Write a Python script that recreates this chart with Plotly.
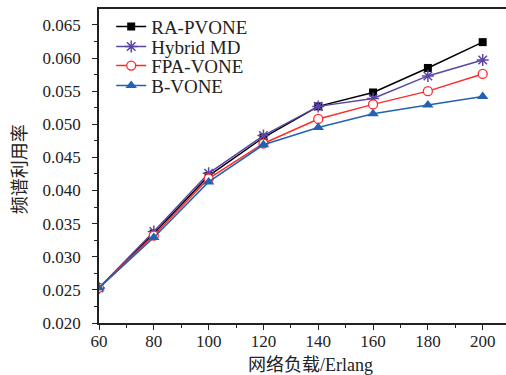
import plotly.graph_objects as go

loads = [60, 80, 100, 120, 140, 160, 180, 200]
ra_pvone = [0.0253, 0.0335, 0.0422, 0.0480, 0.0527, 0.0548, 0.0585, 0.0624]
hybrid_md = [0.0253, 0.0338, 0.0426, 0.0483, 0.0527, 0.0539, 0.0573, 0.0597]
fpa_vone = [0.0253, 0.0332, 0.0418, 0.0471, 0.0508, 0.0530, 0.0550, 0.0576]
b_vone = [0.0253, 0.0329, 0.0413, 0.0469, 0.0495, 0.0516, 0.0529, 0.0542]

names = ["RA-PVONE", "Hybrid MD", "FPA-VONE", "B-VONE"]
colors = ["#000000", "#5b45a5", "#ff2b2b", "#2362b0"]
FONT = "Liberation Serif"
CJK = "Liberation Serif, Noto Sans CJK SC"

fig = go.Figure()
fig.add_trace(go.Scatter(x=loads, y=ra_pvone, name=names[0], mode="lines+markers",
                         legend="legend",
                         line=dict(color=colors[0], width=1.5),
                         marker=dict(symbol="square", size=8, color=colors[0])))
fig.add_trace(go.Scatter(x=loads, y=hybrid_md, name=names[1], mode="lines+markers",
                         legend="legend2",
                         line=dict(color=colors[1], width=1.5),
                         marker=dict(symbol="asterisk-open", size=10, color=colors[1],
                                     line=dict(color=colors[1], width=1.5))))
fig.add_trace(go.Scatter(x=loads, y=fpa_vone, name=names[2], mode="lines+markers",
                         legend="legend3",
                         line=dict(color=colors[2], width=1.5),
                         marker=dict(symbol="circle", size=9, color="white",
                                     line=dict(color=colors[2], width=1.3))))
fig.add_trace(go.Scatter(x=loads, y=b_vone, name=names[3], mode="lines+markers",
                         legend="legend4",
                         line=dict(color=colors[3], width=1.5),
                         marker=dict(symbol="triangle-up", size=10, color=colors[3])))


def leg(yc):
    return dict(x=0.03, y=yc, xanchor="left", yanchor="middle",
                bgcolor="rgba(0,0,0,0)", font=dict(size=19, family=FONT),
                itemwidth=30)


fig.update_layout(
    width=506, height=375,
    margin=dict(l=99, r=0, t=9, b=52),
    paper_bgcolor="white", plot_bgcolor="white",
    font=dict(family=FONT, size=17, color="#222"),
    showlegend=True,
    legend=leg(0.9436), legend2=leg(0.8799), legend3=leg(0.8194), legend4=leg(0.7557),
    xaxis=dict(range=[60, 208.5], tickvals=[60, 80, 100, 120, 140, 160, 180, 200],
               automargin=False, ticklabelstandoff=-3,
               showgrid=False, zeroline=False, showline=True, linecolor="#222",
               linewidth=1.5, mirror=True, ticks="outside", ticklen=5,
               tickcolor="#222", tickwidth=1.2,
               minor=dict(dtick=10, tick0=60, ticks="outside", ticklen=3,
                          tickcolor="#222", tickwidth=1.2),
               tickfont=dict(size=17, family=FONT)),
    yaxis=dict(range=[0.020, 0.0674], tickvals=[0.020, 0.025, 0.030, 0.035, 0.040,
                                                  0.045, 0.050, 0.055, 0.060, 0.065],
               tickformat=".3f", automargin=False, ticklabelstandoff=8,
               showgrid=False, zeroline=False, showline=True, linecolor="#222",
               linewidth=1.5, mirror=False, ticks="outside", ticklen=5,
               tickcolor="#222", tickwidth=1.2,
               minor=dict(dtick=0.0025, tick0=0.020, ticks="outside", ticklen=3,
                          tickcolor="#222", tickwidth=1.2),
               tickfont=dict(size=17, family=FONT)),
    annotations=[
        dict(text="网络负载/Erlang", xref="paper", yref="paper", x=0.52, y=0,
             yshift=-42, xanchor="center", yanchor="middle", showarrow=False,
             font=dict(size=18, family=CJK)),
        dict(text="频谱利用率", xref="paper", yref="paper", x=0, y=0.49,
             xshift=-79, xanchor="center", yanchor="middle", textangle=-90,
             showarrow=False, font=dict(size=18, family=CJK)),
    ],
)

fig.write_html("out.html", config={"displayModeBar": False},
               post_script="document.body.style.margin='0';document.body.style.overflow='hidden';")
